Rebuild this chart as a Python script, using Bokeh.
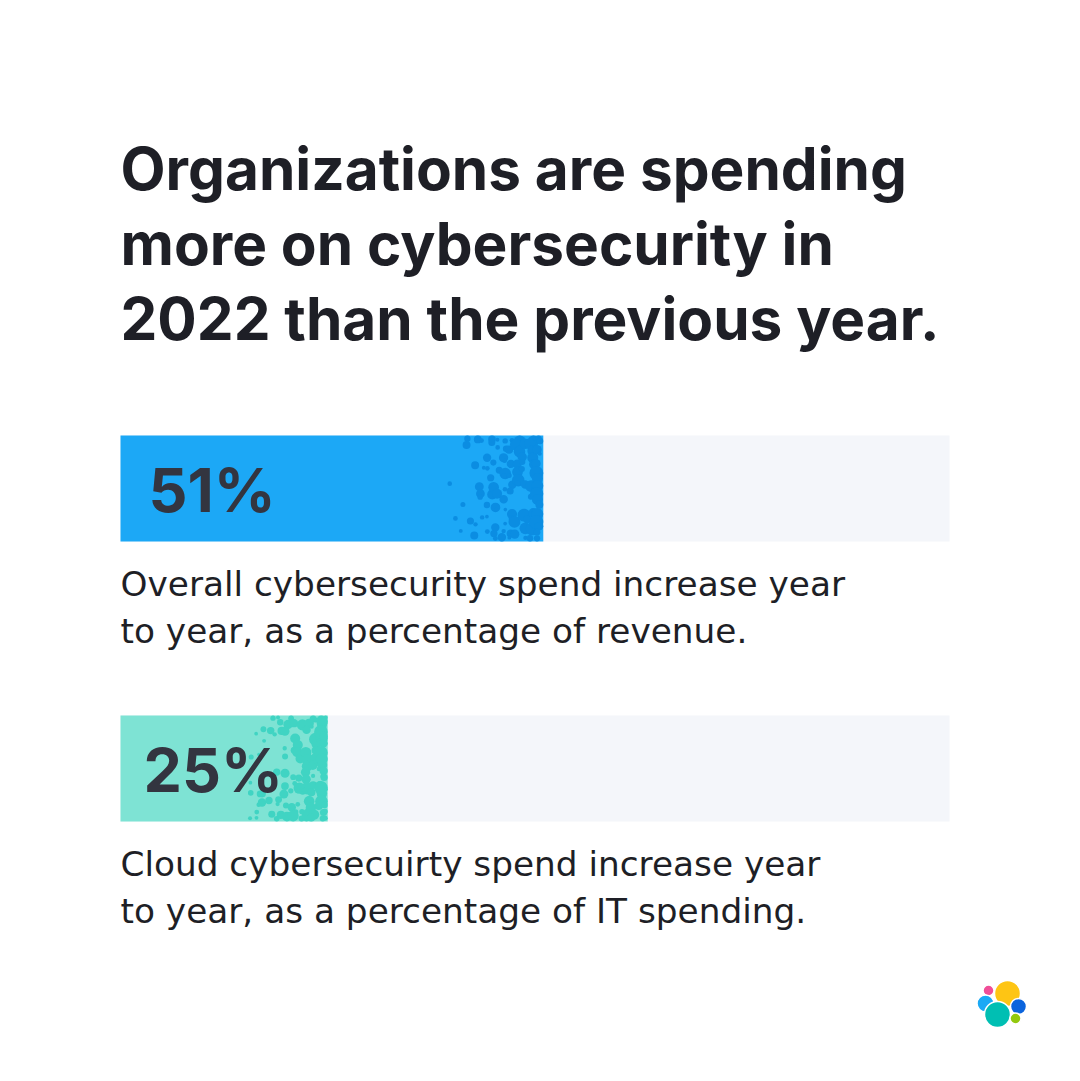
import numpy as np
from bokeh.plotting import figure
from bokeh.models import Range1d, Label
from bokeh.embed import file_html
from bokeh.resources import INLINE

# --- data ---
metrics = ["Overall", "Cloud"]
percent_values = [51, 25]
percent_labels = ["51%", "25%"]
captions = [
    ["Overall cybersecurity spend increase year", "to year, as a percentage of revenue."],
    ["Cloud cybersecuirty spend increase year", "to year, as a percentage of IT spending."],
]
title_lines = [
    "Organizations are spending",
    "more on cybersecurity in",
    "2022 than the previous year.",
]

# --- layout & style ---
W, H = 1080, 1081
track_left_px, track_right_px = 120, 949
px_per_pct = (track_right_px - track_left_px) / 100.0
bar_colors = ["#1ca8f6", "#7ee3d4"]
speckle_colors = ["#0b8de2", "#40d4c3"]
track_color = "#f4f6fa"
ink = "#1e1f26"
label_ink = "#333540"
bar_tops = [435, 715]
bar_h = 106
texture_px = [96, 84]
BASE_SHIFT = 0.38  # baseline correction for Label text, as a fraction of font size


def px_to_x(px):
    return (px - track_left_px) / px_per_pct


def add_text(p, x_px, baseline, text, font, size, color, bold=False):
    p.add_layout(Label(x=px_to_x(x_px), y=baseline - BASE_SHIFT * size, text=text,
                       text_font=font, text_font_style="bold" if bold else "normal",
                       text_font_size=f"{size}px", text_color=color,
                       text_baseline="alphabetic"))


def speckles(end_pct, top, height, width_px, seed):
    """Deterministic speckle pattern that thickens toward the end of a bar."""
    end_px = track_left_px + end_pct * px_per_pct
    xs, ys, sizes = [], [], []
    step = 7.0
    ncols = int(width_px / step)
    nrows = int(height / step)
    for i in range(ncols + 1):
        for j in range(nrows + 1):
            h1 = (np.sin(i * 12.9898 + j * 78.233 + seed) * 43758.5453) % 1.0
            h2 = (np.sin(i * 39.3468 + j * 11.135 + seed) * 24634.6345) % 1.0
            h3 = (np.sin(i * 73.156 + j * 52.235 + seed) * 17563.2381) % 1.0
            t = i / ncols
            if h1 > 0.12 + 0.85 * t ** 1.2:
                continue
            r = 1.8 + (1.4 + 4.2 * t) * h2
            cx = end_px - width_px + i * step + (h3 - 0.5) * 6
            cy = top + j * step + (h2 - 0.5) * 6
            cx = min(cx, end_px - r)
            cy = min(max(cy, top + r), top + height - r)
            if cx - r < end_px - width_px:
                continue
            xs.append(px_to_x(cx))
            ys.append(cy)
            sizes.append(2 * r)
    return xs, ys, sizes


p = figure(
    width=W, height=H, output_backend="svg", toolbar_location=None,
    x_range=Range1d(px_to_x(0), px_to_x(W)),
    y_range=Range1d(H, 0),
    min_border=0, background_fill_color="white", border_fill_color="white",
)
p.axis.visible = False
p.grid.visible = False
p.outline_line_color = None

# headline
for i, line in enumerate(title_lines):
    add_text(p, 120, 190 + 75 * i, line, "Inter", 58.5, ink, bold=True)

label_left_px = [148, 143]
for i, v in enumerate(percent_values):
    top = bar_tops[i]
    ymid = top + bar_h / 2
    # background track
    p.rect(x=[50], y=[ymid], width=[100], height=[bar_h], fill_color=track_color,
           line_color=None)
    # value bar
    p.rect(x=[v / 2], y=[ymid], width=[v], height=[bar_h], fill_color=bar_colors[i],
           line_color=None)
    # speckled texture toward the bar end
    sx, sy, ss = speckles(v, top, bar_h, texture_px[i], seed=3.1 * (i + 1))
    p.scatter(x=sx, y=sy, size=ss, marker="circle", fill_color=speckle_colors[i],
              line_color=None)
    # value label
    add_text(p, label_left_px[i], top + 78, percent_labels[i], "Inter", 61, label_ink, bold=True)
    # caption
    for j, line in enumerate(captions[i]):
        add_text(p, 120, top + 162 + 47 * j, line, "DejaVu Sans", 34.3, ink)

# small logo mark in the corner
logo = [
    (1007, 993, 13, "#fec514"),
    (988, 990, 5.5, "#f04e98"),
    (985, 1003, 8.5, "#1ba9f5"),
    (997, 1014, 13, "#00bfb3"),
    (1018, 1006, 8, "#0b64dd"),
    (1015, 1018, 5.5, "#93c90e"),
]
for cx, cy, r, c in logo:
    p.circle(x=[px_to_x(cx)], y=[cy], radius=r, radius_units="screen",
             fill_color=c, line_color="white", line_width=1.5)

open("out.html", "w").write(file_html(p, INLINE))
